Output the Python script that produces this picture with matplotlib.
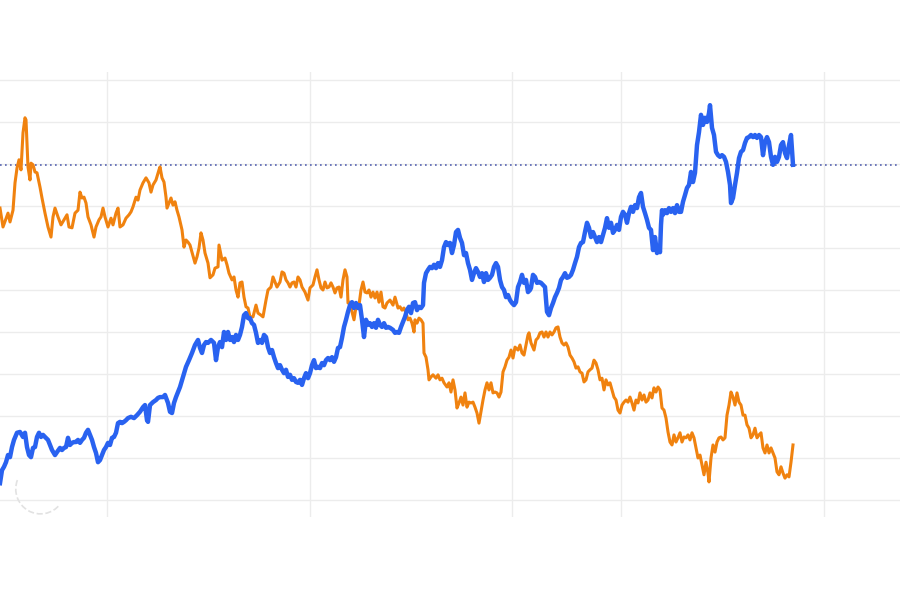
import matplotlib
matplotlib.use("Agg")
import matplotlib.pyplot as plt
from matplotlib.patches import Arc

# Orange series (trading day, index level)
orange_day = [0, 3, 8, 10, 13, 15, 17, 19, 21, 23, 25, 26, 28, 30, 31, 33, 35, 37, 40, 42,
              45, 48, 51, 53, 55, 58, 61, 64, 67, 69, 72, 75, 78, 80, 82, 84, 86, 88, 91, 94,
              96, 99, 101, 103, 105, 108, 111, 113, 116, 118, 120, 123, 126, 129, 131, 133, 136, 138, 140, 143,
              146, 149, 151, 153, 156, 159, 160, 162, 164, 166, 167, 169, 171, 173, 175, 177, 179, 182, 184, 186,
              188, 190, 192, 195, 197, 199, 201, 203, 205, 208, 210, 213, 215, 218, 219, 222, 225, 227, 229, 232,
              234, 236, 238, 240, 242, 244, 246, 248, 250, 253, 256, 258, 261, 263, 266, 268, 271, 273, 275, 277,
              280, 282, 284, 286, 288, 290, 292, 294, 296, 298, 300, 302, 305, 308, 310, 313, 315, 317, 319, 321,
              323, 325, 327, 329, 331, 333, 335, 337, 339, 341, 343, 345, 347, 348, 350, 352, 354, 356, 359, 361,
              363, 365, 367, 369, 371, 373, 375, 377, 379, 381, 383, 385, 387, 390, 393, 395, 398, 400, 402, 404,
              406, 408, 410, 412, 414, 415, 417, 419, 421, 423, 424, 426, 428, 429, 431, 433, 436, 438, 440, 442,
              444, 447, 449, 451, 453, 455, 457, 459, 461, 463, 465, 467, 469, 471, 473, 475, 477, 479, 481, 483,
              485, 487, 489, 491, 493, 495, 497, 499, 501, 503, 505, 507, 509, 511, 513, 515, 518, 520, 522, 524,
              526, 528, 529, 531, 534, 536, 538, 540, 542, 544, 546, 548, 550, 552, 554, 556, 558, 560, 562, 564,
              566, 568, 570, 572, 574, 576, 578, 580, 582, 584, 586, 588, 590, 592, 594, 596, 598, 600, 602, 604,
              606, 608, 610, 612, 614, 616, 618, 620, 622, 624, 626, 628, 630, 632, 634, 636, 638, 640, 642, 644,
              646, 648, 650, 652, 654, 656, 658, 660, 662, 664, 666, 668, 670, 672, 674, 676, 678, 680, 682, 684,
              686, 688, 690, 692, 694, 696, 698, 700, 702, 704, 706, 708, 709, 711, 713, 715, 717, 719, 721, 723,
              725, 727, 729, 731, 733, 735, 737, 739, 741, 743, 745, 747, 749, 751, 753, 755, 757, 759, 761, 763,
              765, 767, 769, 771, 773, 775, 777, 779, 781, 783, 785, 787, 789, 791, 793]
orange_val = [69.5, 65.0, 68.3, 66.2, 69.0, 75.5, 79.0, 81.0, 78.6, 87.4, 91.0, 90.5, 79.3, 76.2, 80.2, 79.8, 78.1, 77.9, 74.5, 71.9,
              68.3, 65.0, 62.6, 67.4, 69.5, 67.4, 65.5, 66.7, 67.9, 65.0, 64.8, 68.3, 69.0, 73.3, 71.9, 72.1, 70.7, 67.4, 65.5, 62.6,
              65.0, 66.7, 67.4, 69.5, 67.4, 65.0, 67.1, 65.5, 68.3, 69.5, 65.0, 65.5, 67.1, 67.9, 68.6, 69.8, 72.1, 71.4, 73.8, 75.5,
              76.7, 75.5, 73.3, 75.0, 76.2, 78.6, 79.3, 76.7, 75.7, 72.1, 69.5, 70.7, 71.9, 70.2, 71.0, 69.0, 67.4, 64.3, 60.2, 61.9,
              61.4, 60.7, 59.0, 56.4, 57.9, 60.0, 63.6, 61.9, 58.8, 56.4, 52.9, 53.6, 55.2, 55.5, 60.7, 57.1, 57.6, 56.0, 54.0, 52.4,
              53.1, 50.0, 48.3, 51.7, 51.9, 48.3, 46.0, 45.7, 43.6, 43.6, 46.4, 44.5, 44.0, 43.6, 47.6, 50.0, 50.7, 53.1, 51.9, 50.7,
              51.9, 54.3, 54.0, 52.4, 51.7, 50.7, 51.7, 51.9, 50.7, 53.1, 52.4, 50.7, 49.5, 47.6, 50.5, 51.2, 53.1, 54.8, 52.4, 50.5,
              50.0, 51.9, 50.5, 50.7, 51.7, 50.7, 49.3, 50.5, 50.7, 48.3, 52.4, 54.8, 53.1, 46.9, 47.1, 44.8, 42.9, 46.0, 46.4, 50.0,
              51.9, 49.5, 49.3, 50.0, 48.3, 49.5, 48.1, 49.5, 47.1, 49.5, 46.0, 45.7, 46.9, 47.6, 46.4, 48.3, 45.7, 46.0, 45.2, 45.7,
              44.5, 42.9, 43.3, 42.1, 40.0, 42.9, 42.1, 43.3, 42.9, 42.1, 35.0, 34.0, 31.0, 28.6, 29.3, 29.8, 29.0, 29.8, 28.6, 29.0,
              27.9, 26.9, 27.9, 25.7, 28.6, 26.2, 21.9, 23.1, 24.5, 22.6, 25.5, 22.1, 23.3, 23.1, 23.3, 22.1, 20.7, 18.3, 21.0, 23.8,
              26.2, 27.9, 26.2, 27.9, 25.5, 25.7, 25.5, 24.5, 25.7, 30.5, 31.7, 33.3, 34.0, 35.7, 33.8, 36.4, 35.7, 36.9, 35.0, 34.5,
              36.9, 39.3, 39.8, 37.4, 35.7, 38.1, 38.6, 39.8, 40.0, 38.8, 40.0, 38.8, 40.0, 39.3, 40.0, 41.0, 41.2, 38.8, 37.4, 36.9,
              37.4, 36.4, 34.5, 33.8, 32.9, 31.4, 31.7, 30.5, 30.2, 28.1, 28.6, 30.5, 31.0, 31.4, 33.3, 32.6, 31.0, 28.6, 29.0, 26.2,
              28.6, 27.4, 27.9, 26.2, 24.5, 23.8, 21.4, 20.7, 22.6, 23.3, 23.8, 23.3, 24.5, 23.1, 21.4, 23.8, 23.1, 25.5, 23.8, 25.0,
              23.3, 23.8, 25.5, 24.3, 26.7, 25.7, 26.9, 26.2, 21.9, 21.4, 19.5, 16.2, 13.8, 13.1, 15.5, 13.8, 14.8, 16.0, 13.8, 15.0,
              14.8, 15.5, 14.3, 16.0, 14.8, 12.4, 10.0, 10.7, 8.3, 6.0, 9.0, 6.4, 4.3, 10.0, 13.1, 11.4, 13.8, 14.8, 15.0, 14.3,
              14.8, 20.2, 22.6, 25.7, 24.5, 22.6, 25.5, 23.3, 22.6, 20.2, 20.2, 17.9, 17.1, 14.8, 15.5, 17.1, 14.8, 15.5, 16.0, 12.4,
              11.2, 13.1, 11.2, 12.4, 11.2, 10.0, 6.7, 6.0, 7.9, 6.4, 5.2, 6.0, 5.5, 9.0, 13.1]

# Blue series
blue_day = [0, 2, 4, 6, 8, 10, 12, 14, 17, 20, 23, 25, 27, 29, 31, 33, 35, 37, 39, 41,
            43, 45, 48, 50, 52, 55, 57, 60, 62, 64, 66, 68, 70, 72, 74, 76, 78, 80, 82, 84,
            86, 88, 90, 92, 94, 96, 98, 100, 102, 104, 106, 108, 110, 112, 114, 116, 118, 120, 122, 124,
            126, 128, 131, 134, 137, 140, 143, 145, 147, 148, 150, 153, 156, 158, 160, 163, 165, 168, 170, 172,
            174, 176, 178, 180, 183, 186, 189, 192, 195, 198, 200, 202, 204, 206, 208, 211, 214, 216, 218, 220,
            222, 224, 226, 228, 230, 232, 234, 236, 238, 240, 242, 244, 246, 248, 250, 252, 254, 256, 258, 261,
            262, 264, 266, 268, 270, 272, 274, 276, 278, 280, 282, 284, 286, 288, 290, 292, 294, 296, 298, 300,
            302, 304, 306, 308, 310, 312, 314, 316, 318, 320, 322, 324, 326, 328, 330, 332, 334, 336, 338, 340,
            342, 344, 346, 348, 350, 352, 354, 356, 358, 360, 362, 364, 366, 368, 370, 372, 374, 376, 378, 380,
            382, 384, 386, 388, 390, 393, 395, 397, 399, 401, 403, 405, 407, 409, 411, 413, 415, 417, 419, 421,
            423, 424, 426, 428, 430, 432, 434, 436, 438, 440, 442, 444, 446, 448, 450, 452, 454, 456, 458, 460,
            462, 464, 466, 468, 470, 472, 474, 476, 478, 480, 482, 484, 486, 488, 490, 492, 494, 496, 498, 500,
            502, 504, 506, 508, 510, 512, 514, 516, 518, 520, 522, 524, 526, 528, 530, 531, 533, 535, 537, 539,
            541, 543, 545, 546, 547, 549, 551, 553, 555, 557, 559, 561, 563, 565, 567, 569, 571, 573, 575, 577,
            579, 581, 583, 585, 587, 589, 591, 593, 595, 597, 599, 601, 603, 605, 607, 609, 611, 613, 615, 617,
            619, 621, 623, 625, 627, 629, 631, 633, 635, 637, 639, 641, 643, 645, 647, 649, 651, 653, 655, 657,
            659, 660, 661, 662, 663, 665, 667, 669, 671, 673, 675, 677, 679, 681, 683, 685, 687, 689, 691, 693,
            695, 697, 699, 701, 703, 705, 707, 709, 710, 712, 714, 716, 718, 720, 722, 724, 726, 728, 730, 731,
            733, 735, 737, 739, 741, 743, 745, 747, 749, 751, 753, 755, 757, 759, 761, 763, 765, 767, 769, 771,
            773, 775, 777, 779, 781, 783, 785, 787, 789, 791, 793]
blue_val = [4.0, 7.1, 7.9, 9.0, 10.7, 10.2, 12.6, 14.3, 16.0, 16.2, 15.0, 16.0, 12.6, 10.7, 10.2, 12.4, 12.6, 15.0, 16.0, 15.0,
            15.5, 15.0, 14.3, 13.1, 11.9, 10.7, 11.4, 12.4, 11.9, 12.4, 12.6, 14.8, 13.1, 13.6, 13.8, 13.8, 14.3, 13.6, 14.3, 14.8,
            16.0, 16.7, 15.5, 14.3, 12.6, 11.2, 9.0, 9.5, 10.7, 11.9, 12.6, 13.6, 13.1, 14.8, 15.0, 16.0, 18.3, 18.6, 18.3, 18.6,
            19.0, 19.5, 19.8, 19.5, 20.2, 21.0, 22.1, 22.6, 19.0, 18.6, 22.6, 23.3, 23.8, 24.3, 24.5, 24.5, 25.0, 23.1, 21.0, 20.7,
            23.1, 24.5, 25.7, 26.9, 29.3, 31.7, 33.3, 35.0, 36.9, 38.1, 36.2, 35.0, 36.9, 37.6, 37.4, 38.1, 37.4, 33.3, 36.4, 37.6,
            36.4, 40.0, 38.1, 40.0, 38.1, 38.8, 37.6, 39.3, 38.1, 39.3, 41.2, 44.0, 44.5, 43.3, 43.3, 42.1, 41.7, 39.8, 37.4, 38.1,
            37.4, 39.3, 38.8, 36.4, 35.0, 35.7, 34.0, 32.6, 31.4, 32.1, 31.0, 30.2, 31.0, 29.3, 29.8, 28.6, 29.0, 28.1, 27.9, 28.6,
            27.4, 29.0, 30.2, 29.0, 30.2, 32.1, 33.3, 31.4, 31.7, 31.4, 32.6, 32.1, 33.3, 33.8, 33.3, 34.0, 32.9, 34.0, 36.2, 36.4,
            38.6, 41.2, 42.9, 44.8, 46.4, 47.1, 45.7, 46.9, 45.7, 46.4, 42.9, 38.8, 42.9, 41.7, 42.1, 41.2, 42.1, 41.0, 42.9, 41.7,
            41.2, 42.1, 41.0, 41.2, 41.0, 40.5, 39.8, 40.0, 39.8, 41.2, 42.4, 43.6, 45.2, 46.0, 44.5, 46.9, 47.1, 45.2, 46.0, 45.7,
            46.4, 51.7, 54.0, 54.8, 55.5, 55.2, 56.0, 55.2, 56.4, 55.5, 57.1, 60.2, 61.4, 60.7, 61.2, 58.8, 60.7, 63.8, 64.3, 62.4,
            61.2, 58.3, 58.8, 56.4, 54.8, 52.4, 54.0, 55.2, 54.3, 53.1, 54.0, 51.9, 54.0, 52.4, 52.9, 53.6, 55.5, 56.4, 55.5, 52.4,
            50.7, 50.0, 48.3, 48.8, 47.6, 46.9, 46.4, 47.1, 50.7, 51.9, 53.6, 51.7, 52.4, 49.5, 50.0, 50.5, 53.6, 53.1, 51.7, 51.9,
            51.7, 51.2, 50.7, 47.6, 44.8, 44.0, 45.7, 46.9, 48.3, 49.3, 50.5, 52.4, 53.1, 54.0, 52.9, 53.1, 53.6, 54.8, 56.4, 57.9,
            60.2, 61.2, 61.4, 63.8, 66.0, 64.8, 62.6, 63.8, 62.6, 61.4, 62.6, 61.4, 63.1, 64.8, 67.1, 64.8, 66.0, 63.6, 64.3, 65.5,
            64.3, 67.4, 68.6, 67.9, 66.0, 68.3, 69.8, 68.6, 70.2, 69.5, 72.1, 73.1, 69.8, 68.3, 66.7, 64.8, 64.3, 59.5, 62.6, 58.8,
            60.0, 59.0, 65.5, 69.0, 67.9, 69.0, 68.3, 69.5, 68.6, 69.5, 68.3, 70.2, 68.6, 68.6, 71.0, 72.6, 74.3, 75.0, 78.1, 75.7,
            77.9, 84.5, 87.6, 91.7, 89.3, 91.0, 90.0, 92.1, 94.0, 88.6, 86.9, 82.9, 82.1, 81.7, 82.1, 81.7, 80.5, 78.1, 75.0, 70.7,
            71.9, 75.0, 77.9, 81.4, 82.9, 83.3, 85.0, 86.2, 86.4, 86.9, 86.4, 86.9, 86.2, 86.9, 86.4, 82.1, 85.2, 86.4, 85.2, 81.7,
            79.8, 81.7, 80.5, 81.7, 84.5, 85.2, 82.6, 81.4, 84.5, 86.9, 79.8]

# vertical grid (period boundaries, in trading days)
period_days = [107, 310, 512, 621, 824]
level_ticks = list(range(0, 101, 10))

fig = plt.figure(figsize=(9, 6), dpi=100)
ax = fig.add_axes([0, 83 / 600, 1, 445 / 600])

ax.plot(orange_day, orange_val, color='#f0820f', linewidth=2.2, solid_joinstyle='round', zorder=3)
ax.plot(blue_day, blue_val, color='#2962f0', linewidth=3.2, solid_joinstyle='round', zorder=4)

# garis putus-putus di level terakhir seri biru
ax.axhline(blue_val[-1], color='#5563b0', linestyle=(0, (1, 2)), linewidth=1.2, zorder=2)

ax.set_xlim(0, 900)
ax.set_ylim(-4.05, 101.9)
ax.set_xticks(period_days)
ax.set_yticks(level_ticks)
ax.grid(True, color='#ececec', linewidth=1)
ax.tick_params(length=0, labelbottom=False, labelleft=False)
for s in ax.spines.values():
    s.set_visible(False)

# sisa ikon loading yang samar di kiri bawah
fig.patches.append(Arc((0.045, 0.185), 0.055, 0.083, theta1=150, theta2=310,
                       transform=fig.transFigure, color='#e2e2e2', linestyle='--', linewidth=1.2))

fig.savefig("out.png", dpi=100)
